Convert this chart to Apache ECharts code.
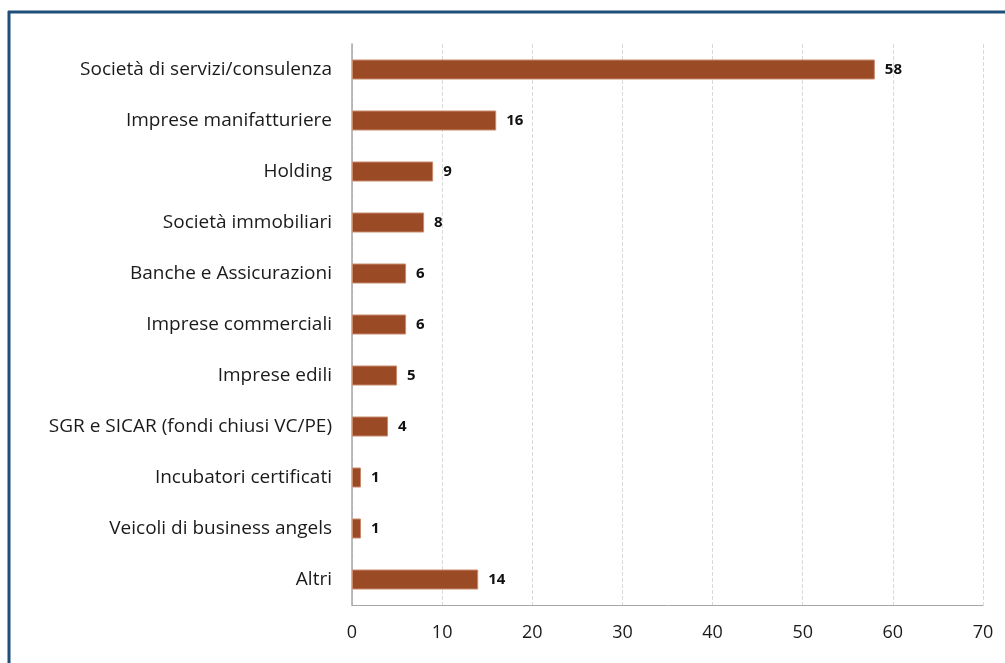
<!DOCTYPE html>
<html>
<head>
<meta charset="utf-8">
<style>
  html, body { margin: 0; padding: 0; background: #ffffff; }
  #chart { width: 1005px; height: 663px; }
</style>
<script src="https://cdn.jsdelivr.net/npm/echarts@6/dist/echarts.min.js"></script>
</head>
<body>
<div id="chart"></div>
<script>
// Investor categories (top to bottom) and counts
const categories = [
  'Società di servizi/consulenza',
  'Imprese manifatturiere',
  'Holding',
  'Società immobiliari',
  'Banche e Assicurazioni',
  'Imprese commerciali',
  'Imprese edili',
  'SGR e SICAR (fondi chiusi VC/PE)',
  'Incubatori certificati',
  'Veicoli di business angels',
  'Altri'
];
const counts = [58, 16, 9, 8, 6, 6, 5, 4, 1, 1, 14];

const FONT = '"Open Sans", "Noto Sans", sans-serif';

const chart = echarts.init(document.getElementById('chart'), null, { renderer: 'canvas' });

chart.setOption({
  backgroundColor: '#ffffff',
  animation: false,
  grid: { left: 352, right: 22, top: 44, bottom: 58, containLabel: false },
  xAxis: {
    type: 'value',
    min: 0,
    max: 70,
    interval: 10,
    axisLine: { show: true, lineStyle: { color: '#a6a6a6', width: 1 } },
    axisTick: { show: false },
    axisLabel: { color: '#1a1a1a', fontSize: 18, fontFamily: FONT, margin: 19 },
    splitLine: { show: true, lineStyle: { color: '#d9d9d9', type: 'dashed', width: 1 } }
  },
  yAxis: {
    type: 'category',
    data: categories,
    inverse: true,
    axisLine: { show: true, lineStyle: { color: '#a6a6a6', width: 1.5 } },
    axisTick: { show: false },
    axisLabel: { color: '#1a1a1a', fontSize: 19, fontFamily: FONT, margin: 20 }
  },
  series: [{
    type: 'bar',
    data: counts,
    barWidth: 20,
    itemStyle: { color: '#9a4a24', borderColor: '#c98a6c', borderWidth: 1 },
    label: {
      show: true,
      position: 'right',
      distance: 10,
      color: '#111111',
      fontWeight: 'bold',
      fontSize: 15,
      fontFamily: FONT
    }
  }],
  graphic: [
    { type: 'line', shape: { x1: 8, y1: 12, x2: 1005, y2: 12 }, style: { stroke: '#1f4e79', lineWidth: 3 } },
    { type: 'line', shape: { x1: 9, y1: 11, x2: 9, y2: 663 }, style: { stroke: '#1f4e79', lineWidth: 3 } }
  ]
});
</script>
</body>
</html>
